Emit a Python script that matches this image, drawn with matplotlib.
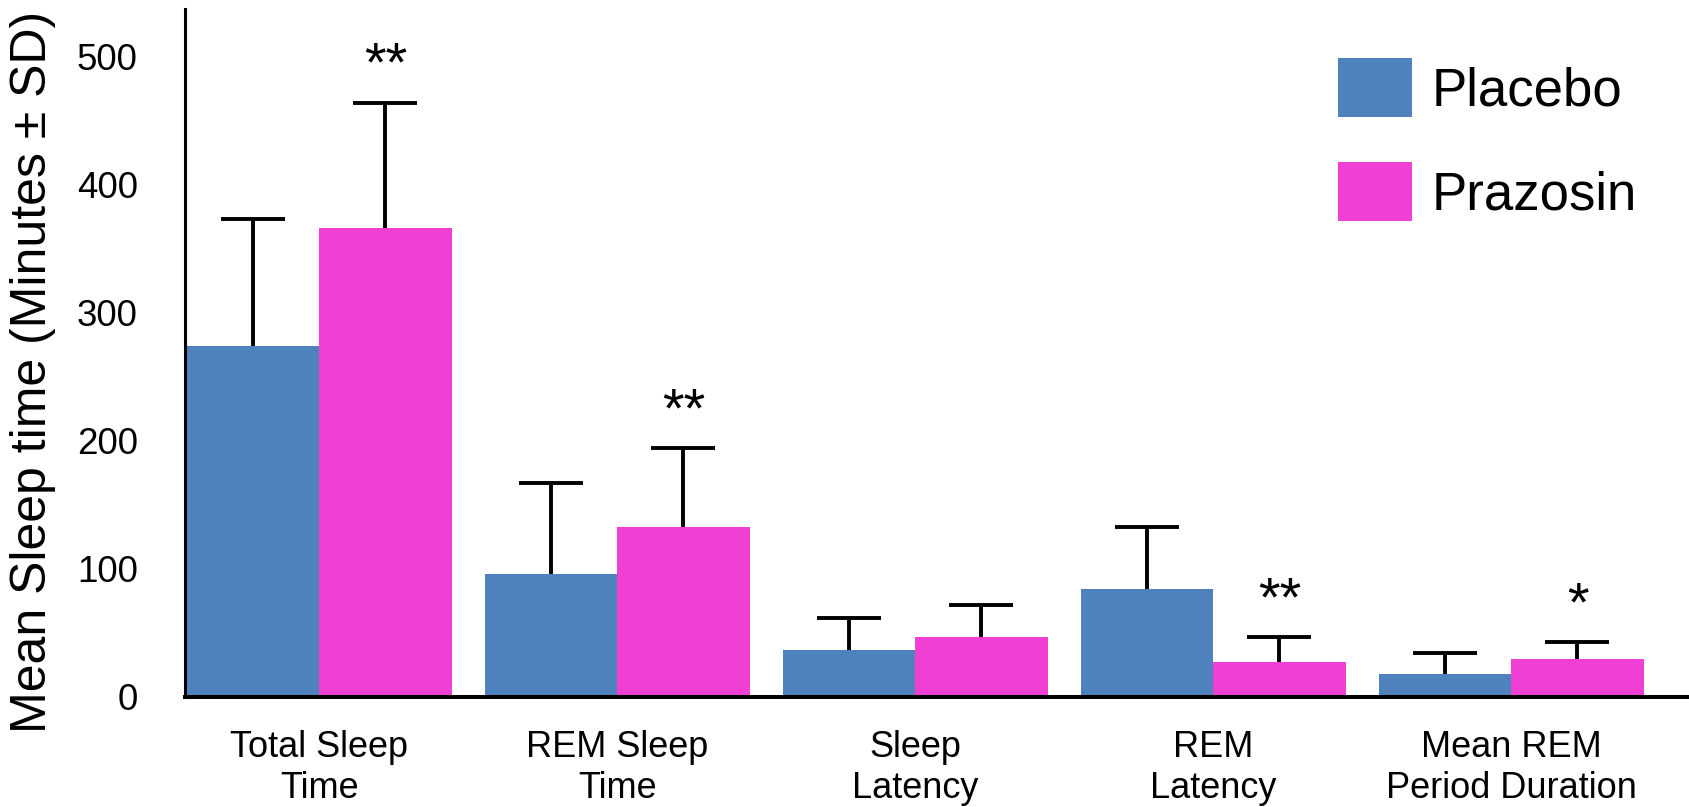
import numpy as np
import matplotlib.pyplot as plt

plt.rcParams['font.family'] = ['Liberation Sans', 'DejaVu Sans']

# mean sleep measures (minutes) and their standard deviations
categories = ['Total Sleep\nTime', 'REM Sleep\nTime', 'Sleep\nLatency',
              'REM\nLatency', 'Mean REM\nPeriod Duration']
placebo = [274, 96, 37, 84, 18]
placebo_sd = [99, 71, 25, 49, 16]
prazosin = [366, 133, 47, 27, 30]
prazosin_sd = [98, 61, 25, 20, 13]
signif = ['**', '**', '', '**', '*']

blue = '#4F81BD'
pink = '#F040D4'

fig = plt.figure(figsize=(16.9, 8.07), dpi=100)
ax = fig.add_axes([185 / 1690, 1 - 697 / 807, 1 - 185 / 1690, (697 - 9) / 807])

x = np.arange(len(categories))
w = 0.445
err_kw = dict(ecolor='black', elinewidth=2.8, capsize=23, capthick=2.8)


def upper_bars(pos, means, sds, color, label):
    bars = ax.bar(pos, means, w, color=color, label=label,
                  yerr=[np.zeros(len(pos)), sds], error_kw=err_kw)
    # only the upper half of each error bar is shown, drop the lower caps
    for cap in bars.errorbar.lines[1]:
        if np.allclose(cap.get_ydata(), means):
            cap.remove()
    return bars


upper_bars(x - w / 2, placebo, placebo_sd, blue, 'Placebo')
upper_bars(x + w / 2, prazosin, prazosin_sd, pink, 'Prazosin')

# significance marks above the prazosin error bars
for xi, m, sd, s in zip(x, prazosin, prazosin_sd, signif):
    if s:
        ax.text(xi + w / 2, m + sd + 17, s, ha='center', va='baseline',
                fontsize=40)

ax.set_xlim(-0.45, 4.6)
ax.set_ylim(0, 537)
ax.set_yticks([0, 100, 200, 300, 400, 500])
ax.set_xticks(x)
ax.set_xticklabels(categories, fontsize=26, linespacing=1.2)
ax.tick_params(axis='y', length=0, pad=34, labelsize=26.5)
ax.tick_params(axis='x', length=0, pad=24)

for side in ['top', 'right']:
    ax.spines[side].set_visible(False)
ax.spines['left'].set_linewidth(2.2)
ax.spines['bottom'].set_linewidth(2.9)

ax.set_ylabel('Mean Sleep time (Minutes ± SD)', fontsize=36)
ax.yaxis.set_label_coords(-0.086, 0.4724)

ax.legend(loc='upper left', bbox_to_anchor=(1338 / 1690, 1 - 58 / 807),
          bbox_transform=fig.transFigure, frameon=False, fontsize=38,
          handlelength=1.4, handleheight=1.35, handletextpad=0.38,
          labelspacing=0.85, borderpad=0, borderaxespad=0)

fig.savefig('out.png', dpi=100)
